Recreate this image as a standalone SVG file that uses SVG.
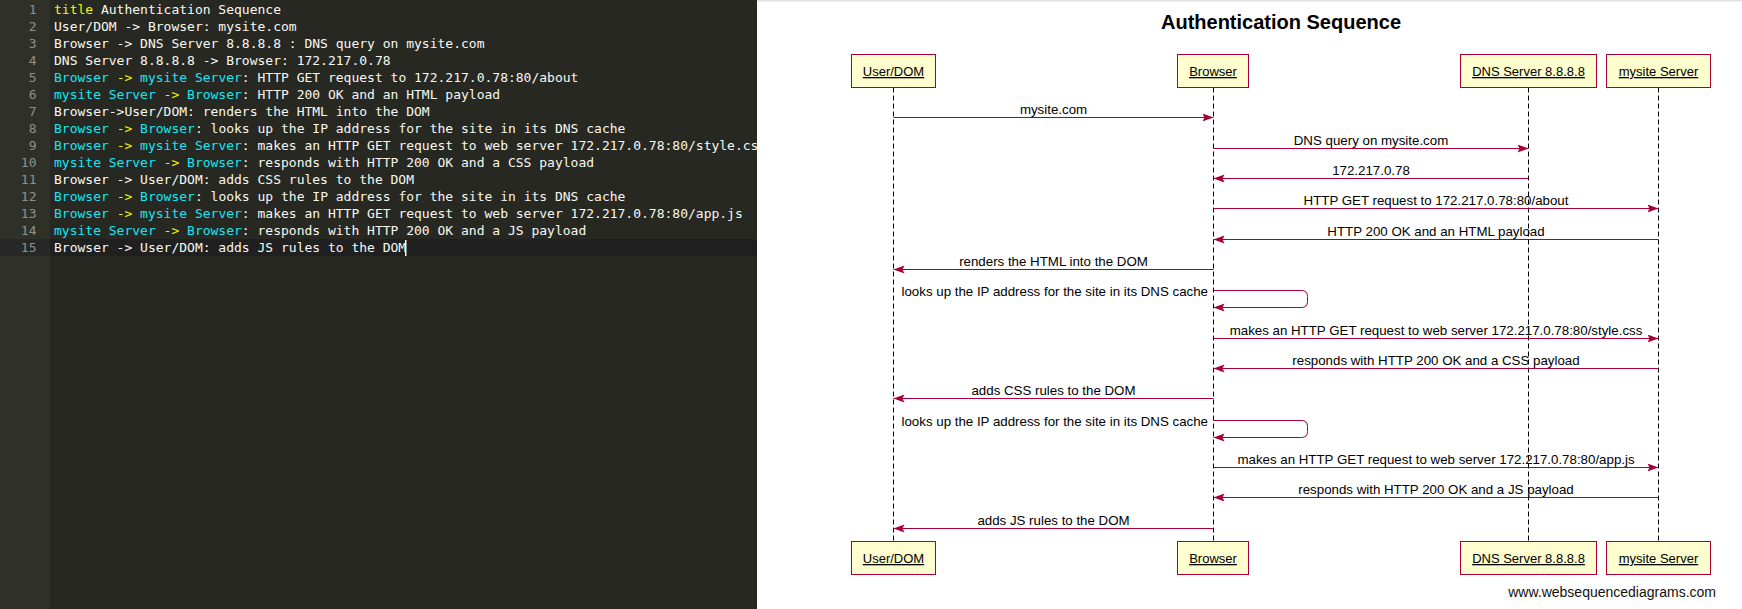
<svg xmlns="http://www.w3.org/2000/svg" width="1742" height="609" viewBox="0 0 1742 609">
<defs>
<style>
.code{font-family:"DejaVu Sans Mono","Liberation Mono",monospace;font-size:13px;fill:#f8f8f2}
.ln{font-family:"DejaVu Sans Mono","Liberation Mono",monospace;font-size:13px;fill:#8f908a;text-anchor:end}
.kw{fill:#f4f400}
.id{fill:#14e6f4}
.box{fill:#fefece;stroke:#a80036;stroke-width:1}
.plab{font-family:"Liberation Sans",Arial,sans-serif;font-size:13px;fill:#000;text-anchor:middle;text-decoration:underline}
.life{stroke:#000;stroke-width:1;stroke-dasharray:5,3;fill:none}
.msg{stroke:#a80036;stroke-width:1;fill:none;marker-end:url(#ah)}
.mlab{font-family:"Liberation Sans",Arial,sans-serif;font-size:13.3px;fill:#000;text-anchor:middle}
.slab{font-family:"Liberation Sans",Arial,sans-serif;font-size:13.3px;fill:#000;text-anchor:end}
</style>
<marker id="ah" markerUnits="userSpaceOnUse" markerWidth="12" markerHeight="9" refX="11" refY="4" orient="auto"><path d="M0,0 L11,4 L0,8 L2,4 z" fill="#a80036"/></marker>
<clipPath id="ed"><rect x="0" y="0" width="757" height="609"/></clipPath>
</defs>

<g id="editor" clip-path="url(#ed)">
<rect x="0" y="0" width="757" height="609" fill="#272822"/>
<rect x="0" y="0" width="50" height="609" fill="#2f3129"/>
<rect x="50" y="239" width="707" height="17" fill="#202020"/>
<rect x="0" y="239" width="50" height="17" fill="#272727"/>
<g class="ln">
<text x="36.5" y="13.5">1</text>
<text x="36.5" y="30.5">2</text>
<text x="36.5" y="47.5">3</text>
<text x="36.5" y="64.5">4</text>
<text x="36.5" y="81.5">5</text>
<text x="36.5" y="98.5">6</text>
<text x="36.5" y="115.5">7</text>
<text x="36.5" y="132.5">8</text>
<text x="36.5" y="149.5">9</text>
<text x="36.5" y="166.5">10</text>
<text x="36.5" y="183.5">11</text>
<text x="36.5" y="200.5">12</text>
<text x="36.5" y="217.5">13</text>
<text x="36.5" y="234.5">14</text>
<text x="36.5" y="251.5">15</text>
</g>
<g class="code" xml:space="preserve">
<text x="54" y="13.5"><tspan class="kw">title</tspan> Authentication Sequence</text>
<text x="54" y="30.5">User/DOM -&gt; Browser: mysite.com</text>
<text x="54" y="47.5">Browser -&gt; DNS Server 8.8.8.8 : DNS query on mysite.com</text>
<text x="54" y="64.5">DNS Server 8.8.8.8 -&gt; Browser: 172.217.0.78</text>
<text x="54" y="81.5"><tspan class="id">Browser</tspan> <tspan class="kw">-&gt;</tspan> <tspan class="id">mysite Server</tspan>: HTTP GET request to 172.217.0.78:80/about</text>
<text x="54" y="98.5"><tspan class="id">mysite Server</tspan> <tspan class="kw">-&gt;</tspan> <tspan class="id">Browser</tspan>: HTTP 200 OK and an HTML payload</text>
<text x="54" y="115.5">Browser-&gt;User/DOM: renders the HTML into the DOM</text>
<text x="54" y="132.5"><tspan class="id">Browser</tspan> <tspan class="kw">-&gt;</tspan> <tspan class="id">Browser</tspan>: looks up the IP address for the site in its DNS cache</text>
<text x="54" y="149.5"><tspan class="id">Browser</tspan> <tspan class="kw">-&gt;</tspan> <tspan class="id">mysite Server</tspan>: makes an HTTP GET request to web server 172.217.0.78:80/style.cs</text>
<text x="54" y="166.5"><tspan class="id">mysite Server</tspan> <tspan class="kw">-&gt;</tspan> <tspan class="id">Browser</tspan>: responds with HTTP 200 OK and a CSS payload</text>
<text x="54" y="183.5">Browser -&gt; User/DOM: adds CSS rules to the DOM</text>
<text x="54" y="200.5"><tspan class="id">Browser</tspan> <tspan class="kw">-&gt;</tspan> <tspan class="id">Browser</tspan>: looks up the IP address for the site in its DNS cache</text>
<text x="54" y="217.5"><tspan class="id">Browser</tspan> <tspan class="kw">-&gt;</tspan> <tspan class="id">mysite Server</tspan>: makes an HTTP GET request to web server 172.217.0.78:80/app.js</text>
<text x="54" y="234.5"><tspan class="id">mysite Server</tspan> <tspan class="kw">-&gt;</tspan> <tspan class="id">Browser</tspan>: responds with HTTP 200 OK and a JS payload</text>
<text x="54" y="251.5">Browser -&gt; User/DOM: adds JS rules to the DOM</text>
</g>
<rect x="405" y="240" width="1.5" height="16" fill="#f8f8f2"/>
</g>

<rect x="757" y="0" width="985" height="609" fill="#ffffff"/>
<rect x="757" y="0" width="985" height="1.5" fill="#e2e2e2"/>

<text x="1281" y="29" font-family="'Liberation Sans',Arial,sans-serif" font-size="20" font-weight="bold" text-anchor="middle" fill="#000">Authentication Sequence</text>

<g id="p-userdom">
<line class="life" x1="893.5" y1="87.5" x2="893.5" y2="541.5"/>
<rect class="box" x="851.5" y="54.5" width="84" height="33"/>
<text class="plab" x="893.5" y="76">User/DOM</text>
<rect class="box" x="851.5" y="541.5" width="84" height="33"/>
<text class="plab" x="893.5" y="563">User/DOM</text>
</g>
<g id="p-browser">
<line class="life" x1="1213.5" y1="87.5" x2="1213.5" y2="541.5"/>
<rect class="box" x="1177.5" y="54.5" width="71" height="33"/>
<text class="plab" x="1213" y="76">Browser</text>
<rect class="box" x="1177.5" y="541.5" width="71" height="33"/>
<text class="plab" x="1213" y="563">Browser</text>
</g>
<g id="p-dns">
<line class="life" x1="1528.5" y1="87.5" x2="1528.5" y2="541.5"/>
<rect class="box" x="1460.5" y="54.5" width="136" height="33"/>
<text class="plab" x="1528.5" y="76">DNS Server 8.8.8.8</text>
<rect class="box" x="1460.5" y="541.5" width="136" height="33"/>
<text class="plab" x="1528.5" y="563">DNS Server 8.8.8.8</text>
</g>
<g id="p-mysite">
<line class="life" x1="1658.5" y1="87.5" x2="1658.5" y2="541.5"/>
<rect class="box" x="1606.5" y="54.5" width="104" height="33"/>
<text class="plab" x="1658.5" y="76">mysite Server</text>
<rect class="box" x="1606.5" y="541.5" width="104" height="33"/>
<text class="plab" x="1658.5" y="563">mysite Server</text>
</g>

<g id="connectors">
<line class="msg" x1="893.5" y1="117.5" x2="1213.5" y2="117.5"/>
<text class="mlab" x="1053.5" y="113.5">mysite.com</text>
<line class="msg" x1="1213.5" y1="148.5" x2="1528.5" y2="148.5"/>
<text class="mlab" x="1371" y="144.5">DNS query on mysite.com</text>
<line class="msg" x1="1528.5" y1="178.5" x2="1213.5" y2="178.5"/>
<text class="mlab" x="1371" y="174.5">172.217.0.78</text>
<line class="msg" x1="1213.5" y1="208.5" x2="1658.5" y2="208.5"/>
<text class="mlab" x="1436" y="204.5">HTTP GET request to 172.217.0.78:80/about</text>
<line class="msg" x1="1658.5" y1="239.5" x2="1213.5" y2="239.5"/>
<text class="mlab" x="1436" y="235.5">HTTP 200 OK and an HTML payload</text>
<line class="msg" x1="1213.5" y1="269.5" x2="893.5" y2="269.5"/>
<text class="mlab" x="1053.5" y="265.5">renders the HTML into the DOM</text>
<path class="msg" d="M1213.5,290.5 H1301.5 Q1307.5,290.5 1307.5,296.5 V301.5 Q1307.5,307.5 1301.5,307.5 H1213.5"/>
<text class="slab" x="1208" y="295.5">looks up the IP address for the site in its DNS cache</text>
<line class="msg" x1="1213.5" y1="338.5" x2="1658.5" y2="338.5"/>
<text class="mlab" x="1436" y="334.5">makes an HTTP GET request to web server 172.217.0.78:80/style.css</text>
<line class="msg" x1="1658.5" y1="368.5" x2="1213.5" y2="368.5"/>
<text class="mlab" x="1436" y="364.5">responds with HTTP 200 OK and a CSS payload</text>
<line class="msg" x1="1213.5" y1="398.5" x2="893.5" y2="398.5"/>
<text class="mlab" x="1053.5" y="394.5">adds CSS rules to the DOM</text>
<path class="msg" d="M1213.5,420.5 H1301.5 Q1307.5,420.5 1307.5,426.5 V431.5 Q1307.5,437.5 1301.5,437.5 H1213.5"/>
<text class="slab" x="1208" y="425.5">looks up the IP address for the site in its DNS cache</text>
<line class="msg" x1="1213.5" y1="467.5" x2="1658.5" y2="467.5"/>
<text class="mlab" x="1436" y="463.5">makes an HTTP GET request to web server 172.217.0.78:80/app.js</text>
<line class="msg" x1="1658.5" y1="497.5" x2="1213.5" y2="497.5"/>
<text class="mlab" x="1436" y="493.5">responds with HTTP 200 OK and a JS payload</text>
<line class="msg" x1="1213.5" y1="528.5" x2="893.5" y2="528.5"/>
<text class="mlab" x="1053.5" y="524.5">adds JS rules to the DOM</text>
</g>

<text x="1716" y="597" font-family="'Liberation Sans',Arial,sans-serif" font-size="14" text-anchor="end" fill="#111">www.websequencediagrams.com</text>
</svg>
